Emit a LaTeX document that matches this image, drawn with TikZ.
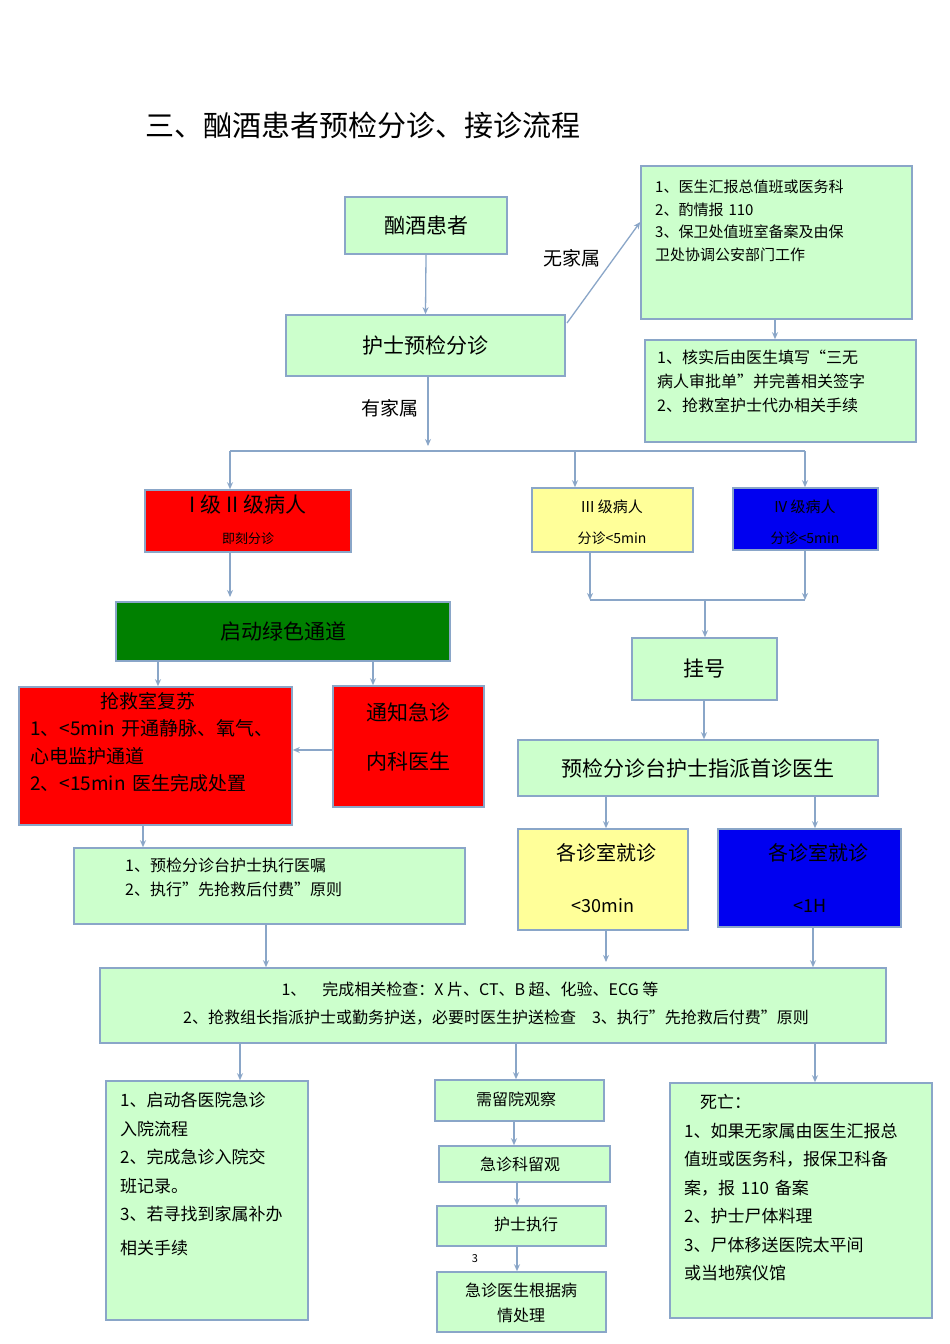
\documentclass[tikz,border=0pt]{standalone}
\usepackage{fontspec}
\setmainfont{Noto Sans CJK SC}
\usetikzlibrary{arrows.meta}
\definecolor{lg}{HTML}{CCFFCC}
\definecolor{bd}{HTML}{8AA6C8}
\definecolor{yl}{HTML}{FFFF99}
\definecolor{rd}{HTML}{FF0000}
\definecolor{bl}{HTML}{0000F0}
\definecolor{gr}{HTML}{008000}
\newcommand\fs[1]{\fontsize{#1pt}{\the\dimexpr #1pt*3/2\relax}\selectfont}
\newcommand\bx[6]{\node[draw=bd,line width=1.6pt,fill=#6,inner sep=0pt,minimum width={(#4-#2)*1pt},minimum height={(#5-#3)*1pt}] (#1) at ({(#2+#4)/2},{(#3+#5)/2}) {};}
\tikzset{arr/.style={draw=bd,line width=1.3pt,-{Stealth[length=7pt,width=6pt]}},
 ln/.style={draw=bd,line width=1.3pt},
 tx/.style={inner sep=0pt,align=center}}
\begin{document}
\begin{tikzpicture}[x=1pt,y=-1pt]
\useasboundingbox[fill=white] (0,0) rectangle (950,1344);
\node[tx,anchor=west,font=\fs{29}] (title) at (145,125) {三、酗酒患者预检分诊、接诊流程};
\bx{A}{345}{197}{507}{254}{lg}
\node[tx,font=\fs{21}] at (A) {酗酒患者};
\bx{B}{286}{315}{565}{376}{lg}
\node[tx,font=\fs{21}] at (B) {护士预检分诊};
\bx{C}{641}{166}{912}{319}{lg}
\node[tx,anchor=north west,align=left,font=\fs{15},text width=250pt] at (655,180) {1、医生汇报总值班或医务科\\2、酌情报 110\\3、保卫处值班室备案及由保\\卫处协调公安部门工作};
\bx{D}{645}{340}{916}{442}{lg}
\node[tx,anchor=north west,align=left,font=\fs{16},text width=260pt] at (657,350) {1、核实后由医生填写“三无\\病人审批单”并完善相关签字\\2、抢救室护士代办相关手续};
\node[tx,font=\fs{19}] (wj) at (572,258) {无家属};
\node[tx,font=\fs{19}] (yj) at (390,408) {有家属};
\draw[arr] (567,323) -- (C.west |- 0,222);
\draw[arr] (775,0 |- C.south) -- (775,0 |- D.north);
\draw[arr] (A.south) -- (B.north);
\draw[arr] (428,0 |- B.south) -- (428,446);
\coordinate (bus1) at (230,451); \coordinate (bus2) at (805,451);
\draw[ln] (bus1) -- (bus2);
\bx{E}{145}{490}{351}{552}{rd}
\node[tx,font=\fs{21}] at (248,505) {I 级 II 级病人};
\node[tx,font=\fs{13}] at (248,539) {即刻分诊};
\bx{F}{532}{488}{693}{552}{yl}
\node[tx,font=\fs{15}] at (612,507) {III 级病人};
\node[tx,font=\fs{14}] at (612,538) {分诊<5min};
\bx{G}{733}{488}{878}{550}{bl}
\node[tx,font=\fs{15}] at (805,507) {IV 级病人};
\node[tx,font=\fs{14}] at (805,538) {分诊<5min};
\draw[arr] (bus1) -- (230,0 |- E.north);
\draw[arr] (575,451) -- (575,0 |- F.north);
\draw[arr] (bus2) -- (805,0 |- G.north);
\bx{H}{116}{602}{450}{661}{gr}
\node[tx,font=\fs{21}] at (H) {启动绿色通道};
\draw[arr] (230,0 |- E.south) -- (230,597);
\coordinate (j1) at (590,600); \coordinate (j2) at (805,600);
\draw[arr] (590,0 |- F.south) -- (j1);
\draw[arr] (805,0 |- G.south) -- (j2);
\draw[ln] (j1) -- (j2);
\bx{I}{632}{638}{777}{700}{lg}
\node[tx,font=\fs{21}] at (I) {挂号};
\draw[arr] (705,600) -- (705,0 |- I.north);
\bx{J}{518}{740}{878}{796}{lg}
\node[tx,font=\fs{21}] at (J) {预检分诊台护士指派首诊医生};
\draw[arr] (704,0 |- I.south) -- (704,0 |- J.north);
\bx{K}{19}{687}{292}{825}{rd}
\node[tx,anchor=north west,align=left,font=\fs{19},text width=270pt] at (30,692) {\hspace*{70pt}抢救室复苏\\[-1pt]1、<5min 开通静脉、氧气、\\[-1pt]心电监护通道\\[-1pt]2、<15min 医生完成处置};
\bx{L}{333}{686}{484}{807}{rd}
\node[tx,font=\fs{21}] at (408,712) {通知急诊};
\node[tx,font=\fs{21}] at (408,762) {内科医生};
\draw[arr] (158,0 |- H.south) -- (158,0 |- K.north);
\draw[arr] (373,0 |- H.south) -- (373,0 |- L.north);
\draw[arr] (L.west |- 0,750) -- (K.east |- 0,750);
\bx{M}{74}{848}{465}{924}{lg}
\node[tx,anchor=north west,align=left,font=\fs{16},text width=340pt] at (125,858) {1、预检分诊台护士执行医嘱\\2、执行”先抢救后付费”原则};
\draw[arr] (143,0 |- K.south) -- (143,0 |- M.north);
\bx{N}{518}{829}{688}{930}{yl}
\node[tx,font=\fs{20}] at (606,853) {各诊室就诊};
\node[tx,font=\fs{18}] at (603,906) {<30min};
\bx{O}{718}{829}{901}{927}{bl}
\node[tx,font=\fs{20}] at (818,853) {各诊室就诊};
\node[tx,font=\fs{18}] at (810,906) {<1H};
\draw[arr] (606,0 |- J.south) -- (606,0 |- N.north);
\draw[arr] (815,0 |- J.south) -- (815,0 |- O.north);
\bx{P}{100}{968}{886}{1043}{lg}
\node[tx,font=\fs{16}] at (470,989) {1、\quad 完成相关检查：X 片、CT、B 超、化验、ECG 等};
\node[tx,font=\fs{16}] at (496,1018) {2、抢救组长指派护士或勤务护送，必要时医生护送检查\quad 3、执行”先抢救后付费”原则};
\draw[arr] (266,0 |- M.south) -- (266,0 |- P.north);
\draw[arr] (606,0 |- N.south) -- (606,962);
\draw[arr] (813,0 |- O.south) -- (813,0 |- P.north);
\bx{Q}{106}{1081}{308}{1320}{lg}
\node[tx,anchor=north west,align=left,font=\fs{17},text width=190pt] at (120,1092) {1、启动各医院急诊\\[3pt]入院流程\\[3pt]2、完成急诊入院交\\[3pt]班记录。\\[3pt]3、若寻找到家属补办\\[8pt]相关手续};
\bx{R}{435}{1080}{604}{1121}{lg}
\node[tx,font=\fs{16}] at (516,1099) {需留院观察};
\bx{S}{439}{1146}{610}{1182}{lg}
\node[tx,font=\fs{16}] at (520,1164) {急诊科留观};
\bx{T}{437}{1206}{606}{1246}{lg}
\node[tx,font=\fs{16}] at (526,1224) {护士执行};
\bx{U}{437}{1272}{606}{1332}{lg}
\node[tx,font=\fs{16}] at (521,1290) {急诊医生根据病};
\node[tx,font=\fs{16}] at (521,1315) {情处理};
\node[tx,font=\fs{11}] (n3) at (475,1259) {3};
\bx{V}{670}{1083}{932}{1318}{lg}
\node[tx,anchor=north west,align=left,font=\fs{17},text width=255pt] at (684,1094) {\hspace*{16pt}死亡：\\[3pt]1、如果无家属由医生汇报总\\[3pt]值班或医务科，报保卫科备\\[3pt]案，报 110 备案\\[3pt]2、护士尸体料理\\[3pt]3、尸体移送医院太平间\\[3pt]或当地殡仪馆};
\draw[arr] (240,0 |- P.south) -- (240,0 |- Q.north);
\draw[arr] (516,0 |- P.south) -- (516,0 |- R.north);
\draw[arr] (815,0 |- P.south) -- (815,0 |- V.north);
\draw[arr] (514,0 |- R.south) -- (514,0 |- S.north);
\draw[arr] (517,0 |- S.south) -- (517,0 |- T.north);
\draw[arr] (517,0 |- T.south) -- (517,0 |- U.north);
\end{tikzpicture}
\end{document}
